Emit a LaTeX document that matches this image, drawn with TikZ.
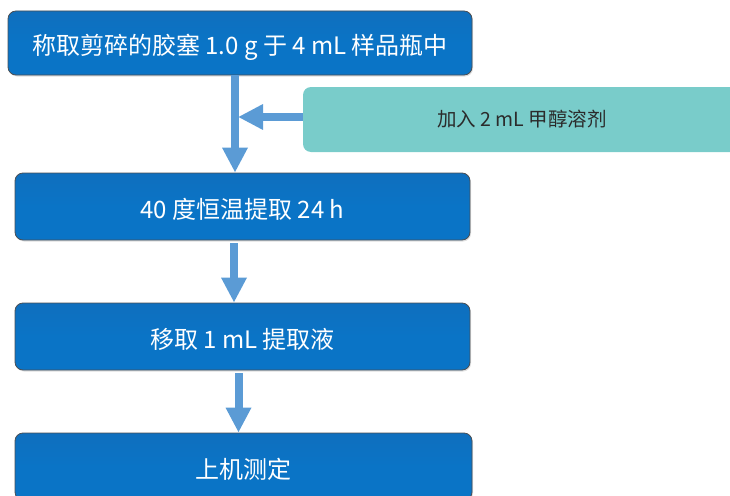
\documentclass[tikz,border=0pt]{standalone}
\usepackage{fontspec}
\setmainfont{Noto Sans CJK SC}
\usetikzlibrary{arrows.meta,shadows}
\definecolor{boxblue}{HTML}{0A74C6}
\definecolor{boxbluetop}{HTML}{0F6FBE}
\definecolor{boxedge}{HTML}{4A4F55}
\definecolor{tealfill}{HTML}{79CCCA}
\definecolor{arrowblue}{HTML}{5B9BD5}
\definecolor{tealtext}{HTML}{2B2B2B}
\tikzset{
  x=1pt, y=-1pt,
  bluebox/.style={draw=boxedge, line width=0.8pt, rounded corners=8pt,
    top color=boxbluetop, bottom color=boxblue, middle color=boxblue,
    text=white, font=\fontsize{24}{28}\selectfont, inner sep=0pt,
    text height=23pt, text depth=0pt,
    drop shadow={shadow xshift=1pt, shadow yshift=-1.5pt, opacity=0.25}},
  tealbox/.style={draw=none, rounded corners=8pt, fill=tealfill,
    text=tealtext, font=\fontsize{19.5}{23}\selectfont, inner sep=0pt},
  flow/.style={draw=arrowblue, line width=8pt,
    -{Triangle[width=24pt,length=25pt]}},
}
\begin{document}
\begin{tikzpicture}
\useasboundingbox (0,0) rectangle (730,495);
\clip (0,0) rectangle (730,495);
\node[bluebox, minimum width=464pt, minimum height=64pt] (b1) at (240,43) {称取剪碎的胶塞 1.0 g 于 4 mL 样品瓶中};
\node[tealbox, minimum width=438pt, minimum height=65pt] (t) at (522,119.5) {加入 2 mL 甲醇溶剂};
\node[bluebox, minimum width=455pt, minimum height=67pt] (b2) at (242.5,206.5) {40 度恒温提取 24 h};
\node[bluebox, minimum width=455pt, minimum height=67pt] (b3) at (242.5,336.5) {移取 1 mL 提取液};
\node[bluebox, minimum width=457pt, minimum height=67pt] (b4) at (243.5,466.5) {上机测定};
\coordinate (j) at (238,117);
\coordinate (c1) at (235,0);
\coordinate (c2) at (234,0);
\coordinate (c3) at (238.5,0);
\draw[flow] (c1 |- b1.south) -- (c1 |- b2.north);
\draw[flow] (t.west |- j) -- (j);
\draw[flow] ([yshift=-3pt]c2 |- b2.south) -- (c2 |- b3.north);
\draw[flow] ([yshift=-3pt]c3 |- b3.south) -- (c3 |- b4.north);
\end{tikzpicture}
\end{document}
